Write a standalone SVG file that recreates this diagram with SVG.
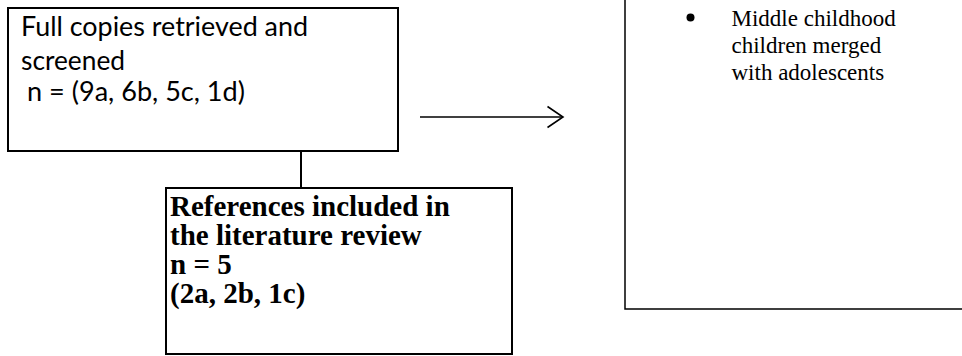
<svg xmlns="http://www.w3.org/2000/svg" width="962" height="356" viewBox="0 0 962 356">
<style>
.box{fill:#fff;stroke:#000;stroke-width:2}
.sans{font-family:Lato,"Open Sans","Liberation Sans",sans-serif;font-size:26px;fill:#000}
.serifb{font-family:"Liberation Serif","Times New Roman",serif;font-weight:bold;font-size:29px;fill:#000}
.serif{font-family:"Liberation Serif","Times New Roman",serif;font-size:23px;fill:#000}
.conn{stroke:#000;stroke-width:2;fill:none}
.thin{stroke:#000;stroke-width:1.5;fill:none}
</style>
<defs>
<marker id="open" markerUnits="userSpaceOnUse" viewBox="0 0 18 24" markerWidth="18" markerHeight="24" refX="16.5" refY="12" orient="auto">
<path d="M1,1.5 L16.5,12 L1,22.5" fill="none" stroke="#000" stroke-width="1.6"/>
</marker>
</defs>
<rect width="962" height="356" fill="#fff"/>
<g id="connectors">
<line class="conn" x1="301" y1="151" x2="301" y2="188"/>
<line class="thin" x1="420" y1="117" x2="563" y2="117" marker-end="url(#open)"/>
</g>
<g id="full-copies">
<rect class="box" x="8" y="8" width="390" height="143"/>
<text class="sans" x="21" y="36" textLength="287" lengthAdjust="spacingAndGlyphs">Full copies retrieved and</text>
<text class="sans" x="21" y="70" textLength="104" lengthAdjust="spacingAndGlyphs">screened</text>
<text class="sans" x="27" y="101" textLength="218" lengthAdjust="spacingAndGlyphs">n = (9a, 6b, 5c, 1d)</text>
</g>
<g id="references-included">
<rect class="box" x="166" y="188" width="346" height="166"/>
<text class="serifb" x="170" y="216">References included in</text>
<text class="serifb" x="170" y="245">the literature review</text>
<text class="serifb" x="170" y="274">n = 5</text>
<text class="serifb" x="170" y="303">(2a, 2b, 1c)</text>
</g>
<g id="excluded">
<path class="thin" d="M625,-2 V309 H964"/>
<circle cx="690.5" cy="17.5" r="4" fill="#000"/>
<text class="serif" x="731.5" y="26">Middle childhood</text>
<text class="serif" x="731.5" y="53">children merged</text>
<text class="serif" x="731.5" y="80">with adolescents</text>
</g>
</svg>
